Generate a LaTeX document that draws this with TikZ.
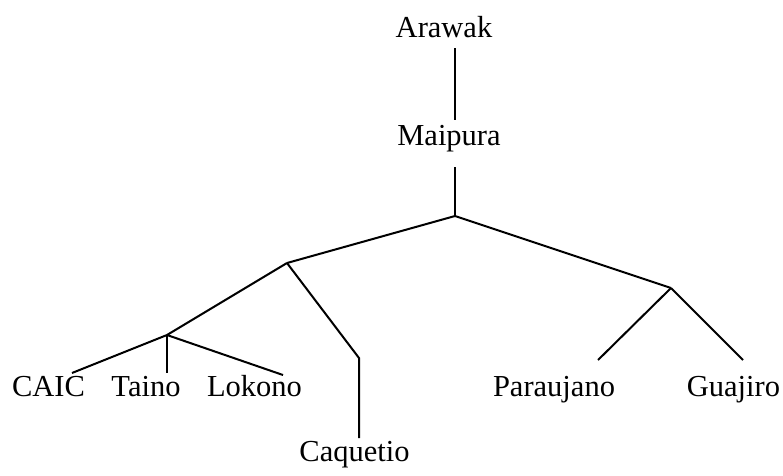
\documentclass[tikz,border=0pt]{standalone}
\usepackage{fontspec}
\setmainfont{Liberation Serif}
\begin{document}
\begin{tikzpicture}[x=1pt,y=-1pt,
  lbl/.style={inner sep=0pt, anchor=base, font=\fontsize{30.5}{36}\selectfont},
  branch/.style={line width=2pt, line cap=butt}]
\useasboundingbox (0,0) rectangle (783,475);
% labels
\node[lbl] (arawak)  at (444,37)  {Arawak};
\node[lbl] (maipura) at (449,145) {Maipura};
\node[lbl] (caic)    at (48.5,396) {CAIC};
\node[lbl] (taino)   at (146,396) {Taino};
\node[lbl] (lokono)  at (254.5,396) {Lokono};
\node[lbl] (caquetio) at (354.5,461) {Caquetio};
\node[lbl] (paraujano) at (554,396) {Paraujano};
\node[lbl] (guajiro) at (733.5,396) {Guajiro};
% internal vertices
\coordinate (v0) at (455,216);
\coordinate (v1) at (287,263);
\coordinate (v2) at (167,335);
\coordinate (v3) at (671,288);
\coordinate (bend) at (359,358);
% connector ends
\coordinate (arawak-b) at (455,48);
\coordinate (maipura-t) at (455,120);
\coordinate (maipura-b) at (455,167);
\coordinate (caic-t) at (72,373);
\coordinate (taino-t) at (167,373);
\coordinate (lokono-t) at (283,375);
\coordinate (caquetio-t) at (359,438);
\coordinate (paraujano-t) at (598,360);
\coordinate (guajiro-t) at (743,360);
% connectors
\draw[branch] (arawak-b) -- (maipura-t);
\draw[branch] (maipura-b) -- (v0);
\draw[branch] (v0) -- (v1);
\draw[branch] (v0) -- (v3);
\draw[branch] (v1) -- (v2);
\draw[branch] (v1) -- (bend) -- (caquetio-t);
\draw[branch] (v2) -- (caic-t);
\draw[branch] (v2) -- (taino-t);
\draw[branch] (v2) -- (lokono-t);
\draw[branch] (v3) -- (paraujano-t);
\draw[branch] (v3) -- (guajiro-t);
\end{tikzpicture}
\end{document}
